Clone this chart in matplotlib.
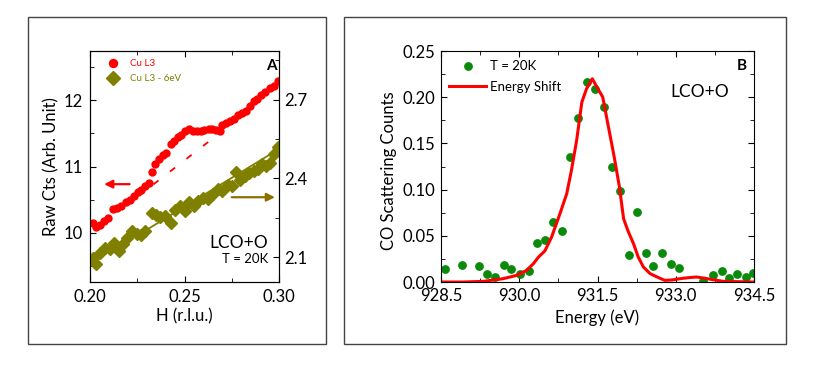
import matplotlib
matplotlib.use("Agg")
import matplotlib.pyplot as plt
from matplotlib.patches import Rectangle
from matplotlib.ticker import MultipleLocator, FormatStrFormatter

plt.rcParams['font.family'] = ['Lato', 'DejaVu Sans']

# ---- panel A data ----
h_cu = [0.2016, 0.2034, 0.2051, 0.2074, 0.2097, 0.2122, 0.2143, 0.2166, 0.2192, 0.2210,
        0.2233, 0.2254, 0.2272, 0.2293, 0.2310, 0.2328, 0.2346, 0.2367, 0.2386, 0.2404,
        0.2427, 0.2444, 0.2464, 0.2483, 0.2504, 0.2524, 0.2545, 0.2566, 0.2587, 0.2605,
        0.2628, 0.2646, 0.2665, 0.2686, 0.2700, 0.2721, 0.2743, 0.2762, 0.2781, 0.2802,
        0.2824, 0.2845, 0.2866, 0.2885, 0.2907, 0.2928, 0.2951, 0.2972, 0.2993]
cts_cu = [10.15, 10.09, 10.12, 10.18, 10.22, 10.36, 10.37, 10.40, 10.47, 10.50,
          10.55, 10.61, 10.65, 10.71, 10.75, 10.92, 11.04, 11.11, 11.17, 11.21,
          11.34, 11.39, 11.44, 11.48, 11.53, 11.56, 11.54, 11.53, 11.53, 11.55,
          11.57, 11.56, 11.55, 11.54, 11.63, 11.66, 11.68, 11.71, 11.77, 11.81,
          11.84, 11.91, 11.98, 12.02, 12.07, 12.12, 12.18, 12.22, 12.29]

h_6ev = [0.2014, 0.2032, 0.2055, 0.2080, 0.2104, 0.2127, 0.2152, 0.2175, 0.2198, 0.2224,
         0.2249, 0.2272, 0.2293, 0.2328, 0.2351, 0.2372, 0.2397, 0.2427, 0.2451, 0.2476,
         0.2501, 0.2525, 0.2548, 0.2573, 0.2598, 0.2622, 0.2651, 0.2677, 0.2700, 0.2728,
         0.2751, 0.2774, 0.2795, 0.2820, 0.2843, 0.2866, 0.2887, 0.2908, 0.2929, 0.2950,
         0.2973, 0.2995]
cts_6ev = [2.096, 2.075, 2.117, 2.136, 2.129, 2.153, 2.125, 2.148, 2.172, 2.199,
           2.189, 2.186, 2.199, 2.267, 2.259, 2.252, 2.257, 2.231, 2.280, 2.294,
           2.277, 2.309, 2.293, 2.315, 2.326, 2.320, 2.341, 2.360, 2.353, 2.375,
           2.371, 2.423, 2.395, 2.409, 2.419, 2.427, 2.436, 2.455, 2.446, 2.459,
           2.493, 2.518]

# background guide lines
guide_h = [0.2335, 0.2630]
guide_cts = [10.73, 11.38]
fit_h = [0.2250, 0.3000]
fit_cts = [2.182, 2.512]

# ---- panel B data ----
e_pts = [928.58, 928.90, 929.22, 929.38, 929.54, 929.70, 929.85, 930.02, 930.18, 930.34,
         930.50, 930.65, 930.82, 930.97, 931.13, 931.29, 931.45, 931.62, 931.77, 931.94,
         932.10, 932.26, 932.42, 932.57, 932.74, 932.90, 933.06, 933.53, 933.71, 933.88,
         934.02, 934.18, 934.34, 934.49]
co_pts = [0.0144, 0.0188, 0.0173, 0.0083, 0.0058, 0.0180, 0.0140, 0.0087, 0.0115, 0.0426,
          0.0458, 0.0650, 0.0550, 0.1350, 0.1780, 0.2170, 0.2090, 0.1890, 0.1245, 0.0980,
          0.0296, 0.0760, 0.0317, 0.0170, 0.0317, 0.0190, 0.0150, 0.0007, 0.0072, 0.0115,
          0.0043, 0.0090, 0.0058, 0.0101]

e_shift = [928.50, 928.93, 929.31, 929.69, 929.95, 930.14, 930.27, 930.37, 930.49, 930.62,
           930.78, 930.91, 931.00, 931.10, 931.20, 931.29, 931.40, 931.48, 931.60, 931.71,
           931.82, 931.92, 932.00, 932.08, 932.19, 932.28, 932.38, 932.51, 932.67, 932.79,
           932.92, 933.08, 933.24, 933.40, 933.53, 933.72, 933.91, 934.50]
co_shift = [0.0000, 0.0000, 0.0007, 0.0036, 0.0072, 0.0126, 0.0198, 0.0271, 0.0336, 0.0487,
            0.0740, 0.0956, 0.1209, 0.1533, 0.1948, 0.2092, 0.2200, 0.2118, 0.2002, 0.1677,
            0.1353, 0.1028, 0.0685, 0.0559, 0.0415, 0.0271, 0.0162, 0.0090, 0.0047, 0.0018,
            0.0022, 0.0036, 0.0047, 0.0054, 0.0043, 0.0025, 0.0007, 0.0000]

RED = '#ff0000'
OLIVE = '#808000'
ARROW_OLIVE = '#8b7000'
GREEN = '#0a8a0a'
FS = 12

fig = plt.figure(figsize=(8.14, 3.70), dpi=100)

# panel frames
for x0, w in [(0.0344, 0.3661), (0.4226, 0.5430)]:
    fig.add_artist(Rectangle((x0, 0.0703), w, 0.8838, transform=fig.transFigure,
                             fill=False, ec='#444444', lw=1.0))

# ---------------- panel A ----------------
ax = fig.add_axes([0.1106, 0.2378, 0.2322, 0.6243])
ax2 = ax.twinx()

l_cu, = ax.plot(h_cu, cts_cu, 'o', color=RED, ms=5, mec=RED, label='Cu L3')
ax.plot(guide_h, guide_cts, color=RED, lw=1.3, ls=(0, (3.6, 8.0)))
l_6ev, = ax2.plot(h_6ev, cts_6ev, 'D', color=OLIVE, ms=5.8, mec=OLIVE, label='Cu L3 - 6eV')
ax2.plot(fit_h, fit_cts, color=OLIVE, lw=1.3)

ax.set_xlim(0.2, 0.3)
ax.set_ylim(9.26, 12.74)
ax2.set_ylim(2.005, 2.885)
ax.xaxis.set_major_locator(MultipleLocator(0.05))
ax.xaxis.set_minor_locator(MultipleLocator(0.025))
ax.xaxis.set_major_formatter(FormatStrFormatter('%.2f'))
ax.yaxis.set_major_locator(MultipleLocator(1))
ax.yaxis.set_minor_locator(MultipleLocator(0.5))
ax2.set_yticks([2.1, 2.4, 2.7])
ax2.set_yticks([2.25, 2.55, 2.85], minor=True)

ax.tick_params(which='both', direction='in', top=True, right=False, labelsize=FS)
ax.tick_params(which='major', length=4)
ax.tick_params(which='minor', length=3)
ax.tick_params(axis='y', pad=5.5)
ax.tick_params(axis='x', pad=5)
ax2.tick_params(which='both', direction='in', labelsize=FS, pad=4)
ax2.tick_params(which='major', length=4)
ax2.tick_params(which='minor', length=3)

ax.set_xlabel('H (r.l.u.)', fontsize=FS)
ax.set_ylabel('Raw Cts (Arb. Unit)', fontsize=FS)
ax.xaxis.set_label_coords(0.5, -0.115)
ax.yaxis.set_label_coords(-0.16, 0.5)

leg = ax2.legend(handles=[l_cu, l_6ev], loc='upper left', bbox_to_anchor=(0.069, 0.965),
                 frameon=False, fontsize=7, handlelength=2.0, handletextpad=0.8,
                 labelspacing=0.6, borderpad=0, borderaxespad=0, numpoints=1,
                 markerscale=1.15)
for txt, c in zip(leg.get_texts(), [RED, OLIVE]):
    txt.set_color(c)

ax2.text(0.99, 0.935, 'A', transform=ax2.transAxes, ha='right', va='center',
         fontsize=11, fontweight='bold')
ax2.text(0.942, 0.169, 'LCO+O', transform=ax2.transAxes, ha='right', va='center', fontsize=12.5)
ax2.text(0.942, 0.10, 'T = 20K', transform=ax2.transAxes, ha='right', va='center', fontsize=9.5)

ax.annotate('', xy=(0.2060, 10.734), xytext=(0.2224, 10.734),
            arrowprops=dict(arrowstyle='-|>', color=RED, lw=1.6, mutation_scale=12))
ax2.annotate('', xy=(0.2993, 2.328), xytext=(0.2735, 2.328),
             arrowprops=dict(arrowstyle='-|>', color=ARROW_OLIVE, lw=1.6, mutation_scale=12))

# ---------------- panel B ----------------
bx = fig.add_axes([0.5418, 0.2378, 0.3845, 0.6243])
p_pts, = bx.plot(e_pts, co_pts, 'o', color=GREEN, ms=5.3, label='T = 20K')
p_line, = bx.plot(e_shift, co_shift, color=RED, lw=2.2, label='Energy Shift')

bx.set_xlim(928.5, 934.5)
bx.set_ylim(0, 0.25)
bx.xaxis.set_major_locator(MultipleLocator(1.5))
bx.xaxis.set_minor_locator(MultipleLocator(0.75))
bx.xaxis.set_major_formatter(FormatStrFormatter('%.1f'))
bx.yaxis.set_major_locator(MultipleLocator(0.05))
bx.yaxis.set_minor_locator(MultipleLocator(0.025))
bx.yaxis.set_major_formatter(FormatStrFormatter('%.2f'))
bx.tick_params(which='both', direction='in', top=True, right=True, labelsize=FS)
bx.tick_params(which='major', length=4)
bx.tick_params(which='minor', length=3)
bx.tick_params(axis='y', pad=4)
bx.tick_params(axis='x', pad=4.5)

bx.set_xlabel('Energy (eV)', fontsize=FS)
bx.set_ylabel('CO Scattering Counts', fontsize=FS)
bx.xaxis.set_label_coords(0.5, -0.12)
bx.yaxis.set_label_coords(-0.14, 0.48)

bx.legend(handles=[p_pts, p_line], loc='upper left', bbox_to_anchor=(0.0256, 0.96),
          frameon=False, fontsize=9.5, handlelength=2.8, handletextpad=0.3,
          labelspacing=0.65, borderpad=0, borderaxespad=0, numpoints=1)

bx.text(0.962, 0.936, 'B', transform=bx.transAxes, ha='center', va='center',
        fontsize=11, fontweight='bold')
bx.text(0.826, 0.822, 'LCO+O', transform=bx.transAxes, ha='center', va='center', fontsize=12.5)

fig.savefig('out.png', dpi=100)
